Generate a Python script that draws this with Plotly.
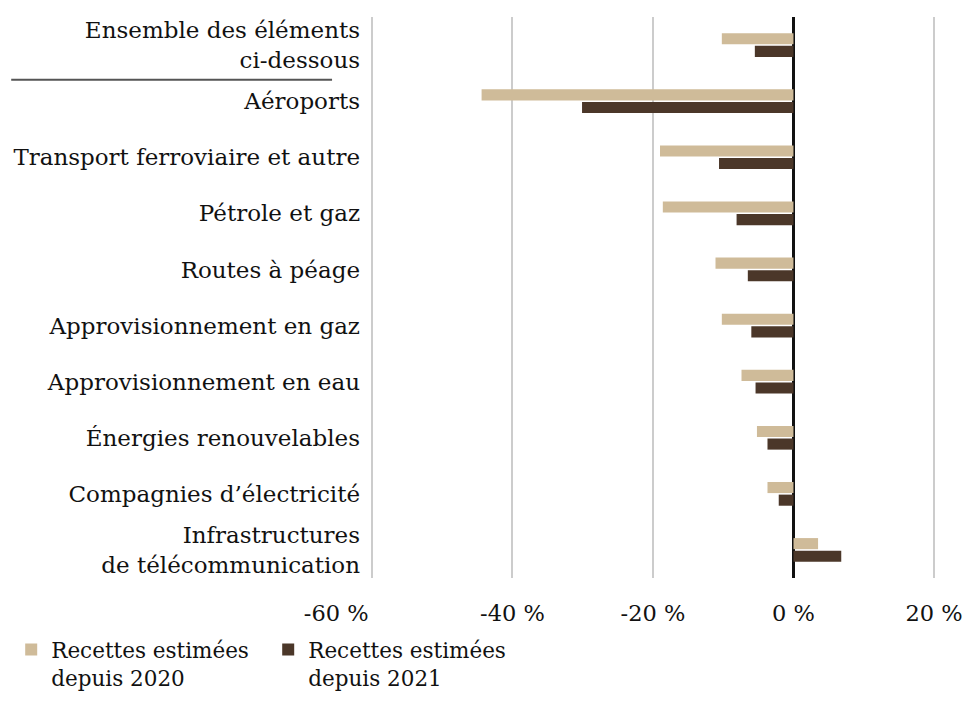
import plotly.graph_objects as go

categories = [
    "Ensemble des éléments<br>ci-dessous",
    "Aéroports",
    "Transport ferroviaire et autre",
    "Pétrole et gaz",
    "Routes à péage",
    "Approvisionnement en gaz",
    "Approvisionnement en eau",
    "Énergies renouvelables",
    "Compagnies d’électricité",
    "Infrastructures<br>de télécommunication",
]
values_2020 = [-10.2, -44.4, -19.0, -18.6, -11.1, -10.2, -7.4, -5.2, -3.7, 3.5]
values_2021 = [-5.5, -30.1, -10.6, -8.1, -6.5, -6.0, -5.4, -3.7, -2.1, 6.8]
series_names = ["Recettes estimées<br>depuis 2020", "Recettes estimées<br>depuis 2021"]
tick_vals = [-60, -40, -20, 0, 20]
tick_text = ["-60 %" + "\u00a0" * 10, "-40 %", "-20 %", "0 %", "20 %"]

FONT = "DejaVu Serif"
fig = go.Figure()
fig.add_trace(go.Bar(y=categories, x=values_2020, orientation="h",
                     name=series_names[0], marker_color="#cfbb99",
                     marker_line_width=0))
fig.add_trace(go.Bar(y=categories, x=values_2021, orientation="h",
                     name=series_names[1], marker_color="#4b3729",
                     marker_line_width=0))

fig.update_layout(
    width=964, height=717,
    margin=dict(l=370, r=19, t=17, b=139),
    paper_bgcolor="white", plot_bgcolor="white",
    barmode="group", bargap=0.55, bargroupgap=0.12,
    font=dict(family=FONT, size=23, color="#111111"),
    legend=dict(orientation="h", x=-0.624, xanchor="left", y=-0.091, yanchor="top",
                font=dict(family=FONT, size=21.5, color="#111111"),
                entrywidth=212, entrywidthmode="pixels", valign="top",
                itemwidth=30, tracegroupgap=0),
    showlegend=True,
)
fig.update_xaxes(
    range=[-60.285, 21.57], tickvals=tick_vals, ticktext=tick_text,
    showgrid=True, gridcolor="#cccccc", gridwidth=2,
    zeroline=True, zerolinecolor="#111111", zerolinewidth=3,
    showline=False, ticks="", ticklabelstandoff=19, ticklabeloverflow="allow",
    automargin=False,
    tickfont=dict(family=FONT, size=22.5, color="#111111"),
)
fig.update_yaxes(
    autorange="reversed", showgrid=False, showline=False, ticks="",
    ticklabelstandoff=9, automargin=False,
    tickfont=dict(family=FONT, size=23, color="#111111"),
)
fig.add_shape(type="line", xref="paper", yref="paper",
              x0=-0.624, x1=-0.066, y0=0.888, y1=0.888,
              line=dict(color="#555555", width=2))

fig.write_html("out.html")
